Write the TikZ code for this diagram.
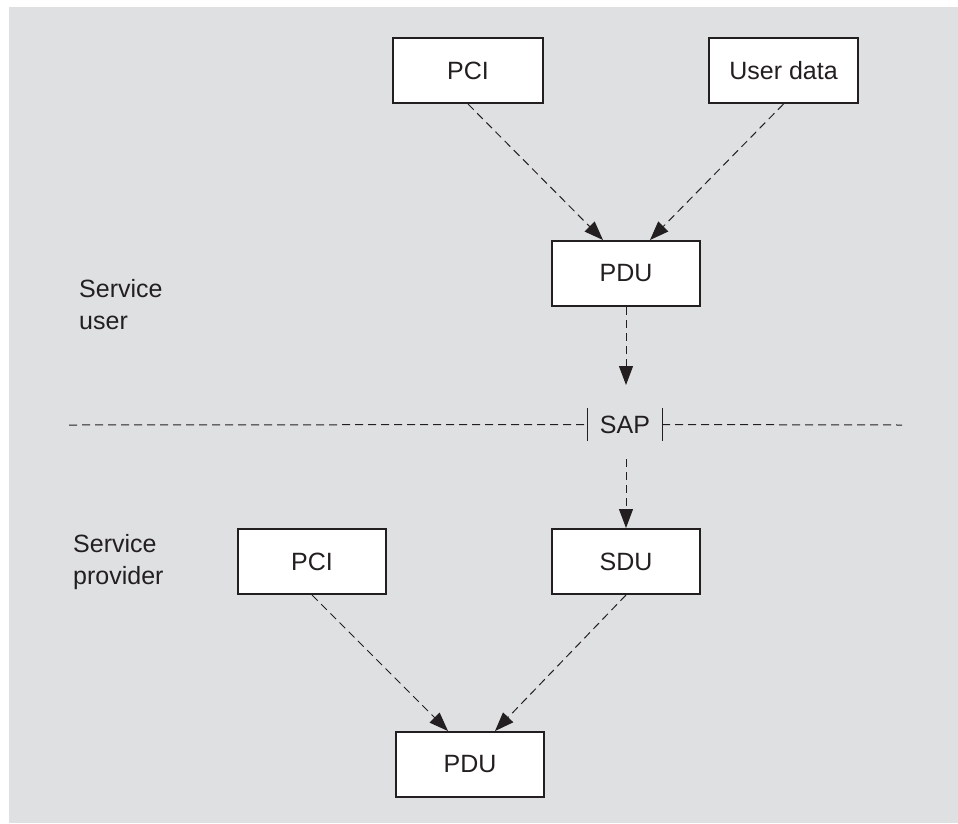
\documentclass[tikz,border=0pt]{standalone}
\usepackage{fontspec}
\setmainfont{Liberation Sans}
\usetikzlibrary{arrows.meta}
\definecolor{bggray}{RGB}{223,224,226}
\definecolor{ink}{RGB}{35,31,32}
\begin{document}
\begin{tikzpicture}[x=1pt,y=-1pt,
  box/.style={draw=ink,line width=2pt,fill=white,minimum width=148pt,minimum height=65pt,inner sep=0pt,
    font=\fontsize{25}{30}\selectfont,text=ink},
  flow/.style={draw=ink,line width=1pt,dash pattern=on 8pt off 5pt,
    -{Triangle[length=19pt,width=14pt]}},
  sepline/.style={draw=ink,line width=1pt,dash pattern=on 8pt off 5pt},
  lbl/.style={font=\fontsize{25}{32}\selectfont,text=ink,align=left,inner sep=0pt,anchor=west}]
\useasboundingbox (0,0) rectangle (958,823);
\fill[bggray] (9,7) rectangle (958,823);
% top row
\node[box,minimum width=150pt] (pci1) at (468,70.5) {PCI};
\node[box,minimum width=149pt] (ud) at (783.5,70.5) {User data};
\node[box] (pdu1) at (626,273.5) {PDU};
% SAP
\node[inner sep=0pt,minimum width=74pt,minimum height=33pt,font=\fontsize{25}{30}\selectfont,text=ink] (sap) at (625,424.5) {SAP};
\draw[ink,line width=1pt] (sap.north west) -- (sap.south west);
\draw[ink,line width=1pt] (sap.north east) -- (sap.south east);
\coordinate (sepL) at (69,425);
\coordinate (sepR) at (902,425);
\draw[sepline] (sepL) -- (sap.west);
\draw[sepline] (sap.east) -- (sepR);
% bottom part
\node[box] (sdu) at (626,561.5) {SDU};
\node[box] (pci2) at (312,561.5) {PCI};
\node[box] (pdu2) at (470,764.5) {PDU};
% labels
\node[lbl] (su) at (79,305) {Service\\user};
\node[lbl] (sp) at (73,562) {Service\\provider};
% connectors
\draw[flow] (pci1.south) -- ([xshift=-23pt]pdu1.north);
\draw[flow] (ud.south) -- ([xshift=24pt]pdu1.north);
\coordinate (tipA) at (626,385);
\coordinate (startB) at (626,459);
\draw[flow] (pdu1.south) -- (tipA);
\draw[flow] (startB) -- (sdu.north);
\draw[flow] (pci2.south) -- ([xshift=-22pt]pdu2.north);
\draw[flow] (sdu.south) -- ([xshift=25pt]pdu2.north);
\end{tikzpicture}
\end{document}
